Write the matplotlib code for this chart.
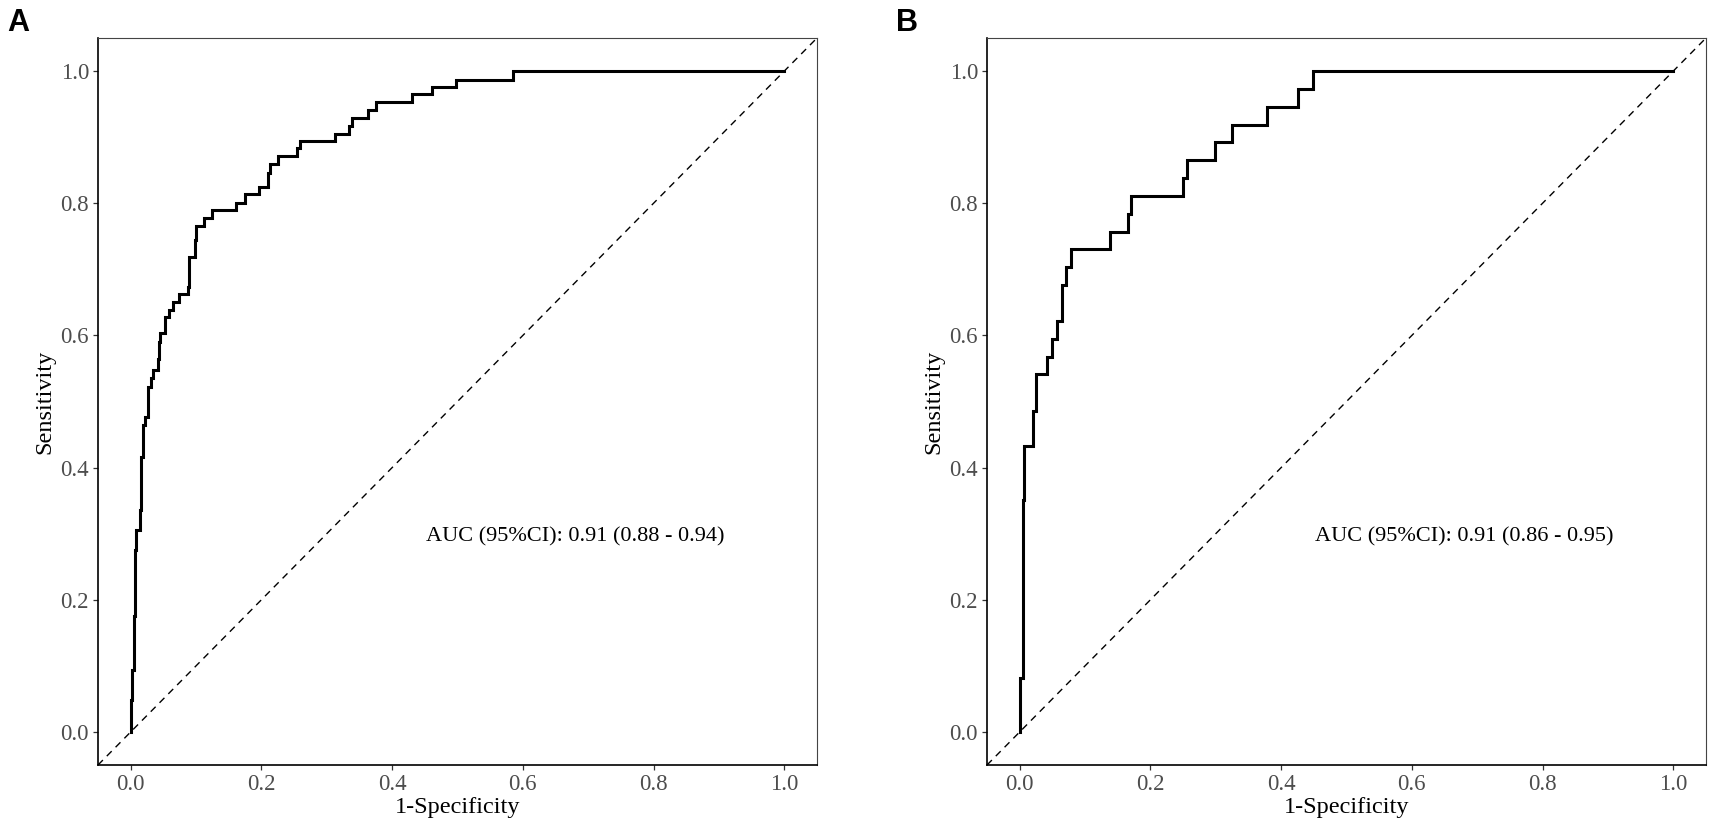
import numpy as np
import matplotlib
matplotlib.use('Agg')
import matplotlib.pyplot as plt

plt.rcParams['font.family'] = ['Liberation Serif', 'DejaVu Serif']

# ROC step points (1-specificity, sensitivity after each rise)
fpr_a = [0.0, 0.0, 0.0026, 0.005, 0.0071, 0.0087, 0.0138, 0.0163, 0.019, 0.022,
         0.0265, 0.0316, 0.034, 0.042, 0.044, 0.0454, 0.052, 0.058, 0.0648, 0.074,
         0.0877, 0.0888, 0.0985, 0.1005, 0.112, 0.125, 0.1607, 0.1755, 0.197, 0.210,
         0.213, 0.225, 0.254, 0.259, 0.312, 0.334, 0.339, 0.363, 0.376, 0.431,
         0.461, 0.498, 0.585, 1.0]
tpr_a = [0.0, 0.049, 0.094, 0.175, 0.275, 0.306, 0.336, 0.416, 0.464, 0.477,
         0.522, 0.535, 0.547, 0.565, 0.590, 0.603, 0.628, 0.639, 0.650, 0.663,
         0.673, 0.719, 0.745, 0.766, 0.778, 0.790, 0.801, 0.814, 0.825, 0.846,
         0.859, 0.872, 0.883, 0.894, 0.905, 0.917, 0.929, 0.941, 0.953, 0.965,
         0.976, 0.987, 1.0, 1.0]

fpr_b = [0.0, 0.0, 0.0046, 0.0066, 0.021, 0.025, 0.042, 0.049, 0.057, 0.065,
         0.071, 0.0785, 0.138, 0.166, 0.170, 0.250, 0.256, 0.299, 0.325, 0.378,
         0.426, 0.448, 1.0]
tpr_b = [0.0, 0.081, 0.351, 0.432, 0.486, 0.541, 0.568, 0.595, 0.622, 0.676,
         0.703, 0.730, 0.757, 0.784, 0.811, 0.838, 0.865, 0.892, 0.919, 0.946,
         0.973, 1.0, 1.0]

panels = ['A', 'B']
auc_text = ['AUC (95%CI): 0.91 (0.88 - 0.94)', 'AUC (95%CI): 0.91 (0.86 - 0.95)']
ticks = [0.0, 0.2, 0.4, 0.6, 0.8, 1.0]
tick_labels = ['0.0', '0.2', '0.4', '0.6', '0.8', '1.0']

W, H = 1713, 823
fig = plt.figure(figsize=(W / 100, H / 100), dpi=100)
axA = fig.add_axes([98 / W, 1 - 765 / H, 719 / W, 727 / H])
axB = fig.add_axes([987 / W, 1 - 765 / H, 719 / W, 727 / H])

for ax, fx, ty, lab, txt, lx in zip([axA, axB], [fpr_a, fpr_b], [tpr_a, tpr_b],
                                    panels, auc_text, [7, 896]):
    ax.axline((0, 0), (1, 1), color='black', lw=1.0, ls=(0, (5, 4)))
    ax.plot(fx, ty, drawstyle='steps-post', color='black', lw=2.2,
            solid_joinstyle='miter')
    ax.set_xlim(-0.05, 1.05)
    ax.set_ylim(-0.05, 1.05)
    ax.set_xticks(ticks)
    ax.set_xticklabels(tick_labels)
    ax.set_yticks(ticks)
    ax.set_yticklabels(tick_labels)
    ax.tick_params(labelsize=16.5, labelcolor='#4D4D4D', length=3.5, width=0.9,
                   pad=3, color='#333333')
    ax.set_xlabel('1-Specificity', fontsize=17.5, va='center')
    ax.set_ylabel('Sensitivity', fontsize=17.5, va='center')
    ax.xaxis.set_label_coords(0.5, -0.058)
    ax.yaxis.set_label_coords(-0.074, 0.5)
    for s in ['left', 'bottom']:
        ax.spines[s].set_linewidth(1.2)
        ax.spines[s].set_color('black')
    for s in ['top', 'right']:
        ax.spines[s].set_linewidth(0.8)
        ax.spines[s].set_color('#444444')
    ax.text(0.68, 0.295, txt, fontsize=16, ha='center', va='center')
    fig.text(lx / W, 1 - 8 / H, lab, fontsize=22, fontweight='bold',
             family='Liberation Sans', ha='left', va='top')

fig.savefig('out.png', dpi=100)
